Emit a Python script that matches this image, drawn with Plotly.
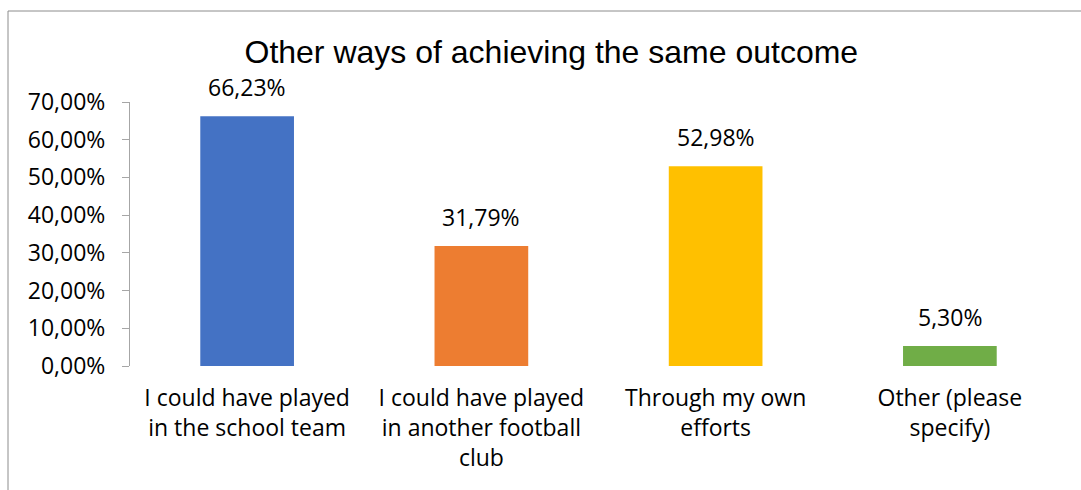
import plotly.graph_objects as go

categories = [
    "I could have played<br>in the school team",
    "I could have played<br>in another football<br>club",
    "Through my own<br>efforts",
    "Other (please<br>specify)",
]
values = [0.6623, 0.3179, 0.5298, 0.0530]
colors = ["#4472C4", "#ED7D31", "#FFC000", "#70AD47"]
title_text = "Other ways of achieving the same outcome"

FONT = "Open Sans, Liberation Sans, sans-serif"
FS = 23

fig = go.Figure()
fig.add_trace(go.Bar(x=categories, y=values, marker=dict(color=colors, line=dict(width=0)),
                     hoverinfo="skip"))

for c, v in zip(categories, values):
    fig.add_annotation(x=c, y=v, text=f"{v*100:.2f}%".replace(".", ","),
                       showarrow=False, yanchor="bottom", yshift=11,
                       font=dict(family=FONT, size=FS, color="#000000"))

# chart border
fig.add_shape(type="rect", xref="paper", yref="paper",
              x0=(8 - 130) / 937, x1=1.2, y0=-0.6, y1=(366 - 11) / 264,
              line=dict(color="#8C8C8C", width=1), fillcolor="rgba(0,0,0,0)", layer="below")

fig.update_layout(
    width=1081, height=490,
    margin=dict(l=130, r=14, t=102, b=124),
    paper_bgcolor="white", plot_bgcolor="white",
    separators=",.",
    bargap=0.6,
    showlegend=False,
    title=dict(text=title_text, x=0.51, xanchor="center", y=1 - 52 / 490, yanchor="middle",
               font=dict(family="Liberation Sans, Arial, sans-serif", size=32, color="#000000")),
    font=dict(family=FONT, size=FS, color="#000000"),
)
fig.update_yaxes(range=[0, 0.7], tickvals=[0, 0.1, 0.2, 0.3, 0.4, 0.5, 0.6, 0.7], tickformat=".2%",
                 showgrid=False, zeroline=False, showline=True, linecolor="#A6A6A6", linewidth=1,
                 ticks="outside", ticklen=7, tickcolor="#A6A6A6",
                 ticklabelstandoff=12,
                 tickfont=dict(family=FONT, size=FS, color="#000000"))
fig.update_xaxes(showgrid=False, zeroline=False, showline=False, ticks="",
                 ticklabelstandoff=16,
                 tickfont=dict(family=FONT, size=FS, color="#000000"))

fig.write_html("out.html")
